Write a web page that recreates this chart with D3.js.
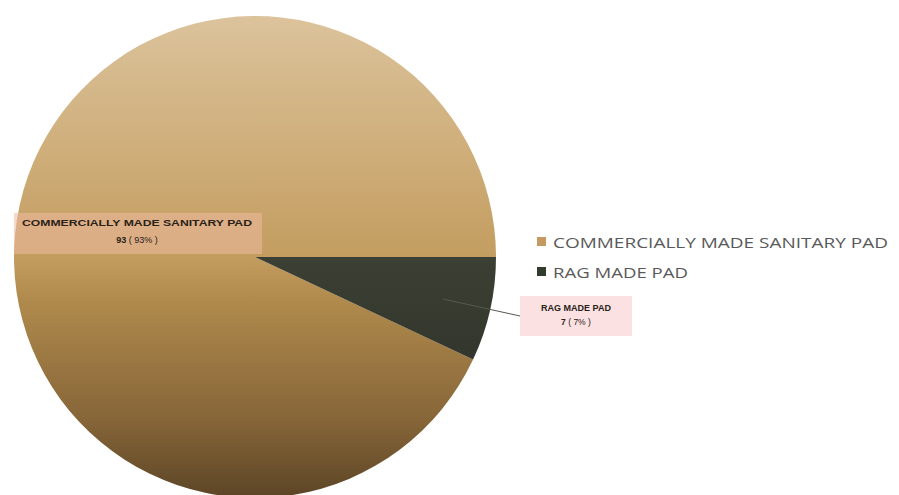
<!DOCTYPE html>
<html>
<head>
<meta charset="utf-8">
<script src="https://cdn.jsdelivr.net/npm/d3@7"></script>
<style>
  html, body { margin: 0; padding: 0; background: #fff; }
  svg { display: block; }
</style>
</head>
<body>
<svg id="chart" width="899" height="495"></svg>
<script>
// Pad usage data
const categories = ["COMMERCIALLY MADE SANITARY PAD", "RAG MADE PAD"];
const counts = [93, 7];
const percents = ["93%", "7%"];

const W = 899, H = 495;
const cx = 255, cy = 257, R = 241;

const svg = d3.select("#chart");
const defs = svg.append("defs");

// vertical shading for the large slice (coordinates relative to the pie centre)
const gTan = defs.append("linearGradient")
  .attr("id", "tanGrad").attr("gradientUnits", "userSpaceOnUse")
  .attr("x1", 0).attr("y1", -R).attr("x2", 0).attr("y2", R);
[["0%", "#dcc39c"], ["13%", "#d5b98c"], ["28%", "#cfae7a"], ["50%", "#c39d60"],
 ["59%", "#b08a4c"], ["84%", "#866538"], ["100%", "#5c4526"]]
  .forEach(([o, c]) => gTan.append("stop").attr("offset", o).attr("stop-color", c));

const gDark = defs.append("linearGradient")
  .attr("id", "darkGrad").attr("gradientUnits", "userSpaceOnUse")
  .attr("x1", 0).attr("y1", 0).attr("x2", 0).attr("y2", R * 0.45);
gDark.append("stop").attr("offset", "0%").attr("stop-color", "#3c4034");
gDark.append("stop").attr("offset", "100%").attr("stop-color", "#32352b");

const fills = ["url(#tanGrad)", "url(#darkGrad)"];
const legendColors = ["#c49a62", "#333a2e"];

// the small slice begins at 3 o'clock and runs clockwise
const smallShare = counts[1] / d3.sum(counts);
const start = Math.PI / 2 + smallShare * 2 * Math.PI;
const pie = d3.pie().sort(null).value(d => d)
  .startAngle(start).endAngle(start + 2 * Math.PI);
const arcs = pie(counts);
const arc = d3.arc().innerRadius(0).outerRadius(R);

const g = svg.append("g").attr("transform", `translate(${cx},${cy})`);
g.selectAll("path.slice").data(arcs).join("path")
  .attr("class", "slice")
  .attr("d", arc)
  .attr("fill", (d, i) => fills[i]);

// data label for the large slice
const lab0 = svg.append("g");
lab0.append("rect")
  .attr("x", 14).attr("y", 213).attr("width", 248).attr("height", 41)
  .attr("fill", "#efb9a0").attr("opacity", 0.55);
lab0.append("text")
  .attr("x", 137).attr("y", 226)
  .attr("text-anchor", "middle")
  .attr("font-family", "Liberation Sans Narrow, Liberation Sans, Arial, sans-serif")
  .attr("font-weight", "bold").attr("font-size", 9.5)
  .attr("fill", "#2a2218")
  .attr("textLength", 230).attr("lengthAdjust", "spacingAndGlyphs")
  .text(categories[0]);
lab0.append("text")
  .attr("x", 137).attr("y", 243)
  .attr("text-anchor", "middle")
  .attr("font-family", "Liberation Sans, Arial, sans-serif")
  .attr("font-size", 9).attr("fill", "#2a2218")
  .call(t => {
    t.append("tspan").attr("font-weight", "bold").text(counts[0]);
    t.append("tspan").text(" ( " + percents[0] + " )");
  });

// leader line and label for the small slice
const inner = d3.arc().innerRadius(R * 0.8).outerRadius(R * 0.8).centroid(arcs[1]);
svg.append("path")
  .attr("d", `M${cx + inner[0]},${cy + inner[1]} L520,316`)
  .attr("fill", "none").attr("stroke", "#555a50").attr("stroke-width", 1);

const lab1 = svg.append("g");
lab1.append("rect")
  .attr("x", 520).attr("y", 296).attr("width", 112).attr("height", 40)
  .attr("fill", "#fbe1e1");
lab1.append("text")
  .attr("x", 576).attr("y", 311)
  .attr("text-anchor", "middle")
  .attr("font-family", "Liberation Sans Narrow, Liberation Sans, Arial, sans-serif")
  .attr("font-weight", "bold").attr("font-size", 9)
  .attr("fill", "#2a2218")
  .attr("textLength", 70).attr("lengthAdjust", "spacingAndGlyphs")
  .text(categories[1]);
lab1.append("text")
  .attr("x", 576).attr("y", 325)
  .attr("text-anchor", "middle")
  .attr("font-family", "Liberation Sans, Arial, sans-serif")
  .attr("font-size", 8.5).attr("fill", "#2a2218")
  .call(t => {
    t.append("tspan").attr("font-weight", "bold").text(counts[1]);
    t.append("tspan").text(" ( " + percents[1] + " )");
  });

// legend
const legend = svg.append("g").attr("transform", "translate(537,233)");
const items = legend.selectAll("g").data(categories).join("g")
  .attr("transform", (d, i) => `translate(0,${i * 30})`);
items.append("rect")
  .attr("x", 0).attr("y", 4).attr("width", 9).attr("height", 9)
  .attr("fill", (d, i) => legendColors[i]);
items.append("text")
  .attr("x", 16).attr("y", 15)
  .attr("font-family", "Open Sans, Liberation Sans, Arial, sans-serif")
  .attr("font-size", 15).attr("fill", "#595959")
  .attr("textLength", (d, i) => i === 0 ? 335 : 135)
  .attr("lengthAdjust", "spacingAndGlyphs")
  .text(d => d);
</script>
</body>
</html>
